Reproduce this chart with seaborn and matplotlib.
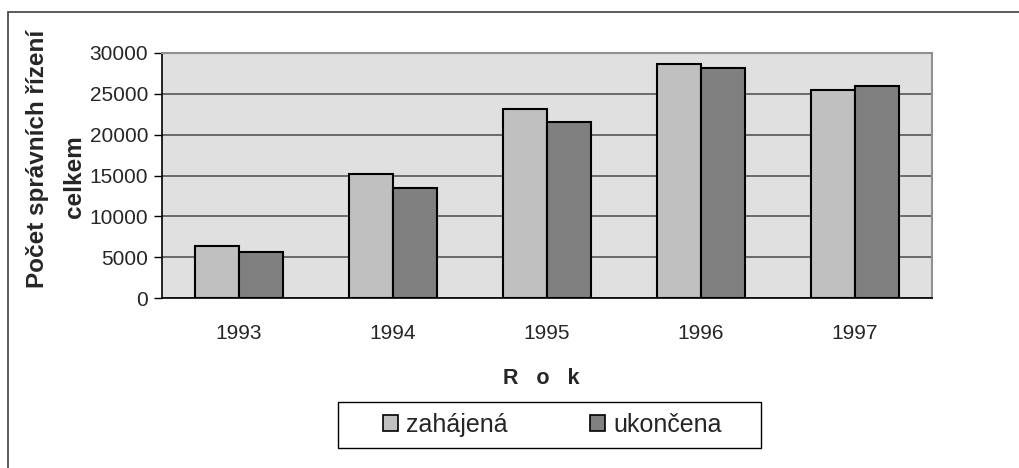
import matplotlib
matplotlib.use("Agg")
import matplotlib.pyplot as plt
from matplotlib.patches import Rectangle, Patch
import seaborn as sns
import pandas as pd

years = ["1993", "1994", "1995", "1996", "1997"]
zahajena = [6400, 15200, 23100, 28700, 25500]
ukoncena = [5600, 13500, 21500, 28200, 26000]
series_names = ["zahájená", "ukončena"]
yticks = [0, 5000, 10000, 15000, 20000, 25000, 30000]

df = pd.DataFrame({
    "Rok": years * 2,
    "value": zahajena + ukoncena,
    "series": [series_names[0]] * len(years) + [series_names[1]] * len(years),
})

sns.set_theme(style="white")
plt.rcParams["font.family"] = ["Liberation Sans", "DejaVu Sans"]

W, H = 1020, 468
fig = plt.figure(figsize=(W / 100, H / 100), dpi=100)
ax = fig.add_axes([162 / W, 1 - 298 / H, (932 - 162) / W, (298 - 53) / H])

palette = {series_names[0]: "#c0c0c0", series_names[1]: "#808080"}
sns.barplot(data=df, x="Rok", y="value", hue="series", palette=palette,
            width=0.57, gap=0, edgecolor="black", linewidth=1.5,
            saturation=1, ax=ax, legend=False, zorder=3)

ax.set_facecolor("#e0e0e0")
ax.set_ylim(0, 30000)
ax.set_xlim(-0.5, len(years) - 0.5)
ax.set_yticks(yticks)
ax.set_yticklabels([str(v) for v in yticks], fontsize=15)
ax.set_xticks(range(len(years)))
ax.set_xticklabels(years, fontsize=15)
ax.set_xticks([i - 0.5 for i in range(len(years) + 1)], minor=True)
ax.tick_params(axis="x", which="major", length=0, pad=19)
ax.tick_params(axis="x", which="minor", length=12, direction="inout", width=1, color="black")
ax.tick_params(axis="y", which="major", length=6, direction="out", width=1, color="black", left=True, pad=4)
ax.yaxis.grid(True, color="#555555", linewidth=1.2, zorder=1)
ax.set_axisbelow(True)
ax.set_xlabel("")
ax.set_ylabel("")
for s in ["top", "right"]:
    ax.spines[s].set_color("#909090")
    ax.spines[s].set_linewidth(1.5)
for s in ["left", "bottom"]:
    ax.spines[s].set_color("black")
    ax.spines[s].set_linewidth(1.2)

# axis titles
fig.text(37.5 / W, 1 - 159 / H, "Počet správních řízení", rotation=90,
         ha="center", va="center", fontsize=17.5, fontweight="bold")
fig.text(75 / W, 1 - 177 / H, "celkem", rotation=90,
         ha="center", va="center", fontsize=17.5, fontweight="bold")
fig.text(541 / W, 1 - 378 / H, "R   o   k", ha="center", va="center",
         fontsize=15.5, fontweight="bold")

# legend box (drawn as a figure patch) and legend contents
fig.patches.append(Rectangle((338 / W, 1 - 448 / H), (761 - 338) / W, (448 - 402) / H,
                             transform=fig.transFigure, facecolor="white",
                             edgecolor="black", linewidth=1.0, zorder=1))
handles = [Patch(facecolor=palette[n], edgecolor="black", linewidth=1.2) for n in series_names]
leg = fig.legend(handles, series_names, loc="center", bbox_to_anchor=(552.5 / W, 1 - 425 / H),
                 ncol=2, fontsize=18, frameon=False, handlelength=0.6,
                 handleheight=0.6, handletextpad=0.32, columnspacing=3.3,
                 borderpad=0, borderaxespad=0)
leg.set_zorder(5)

# outer chart border
fig.patches.append(Rectangle((8 / W, -0.1), 1.2, 1.1 - 12 / H, transform=fig.transFigure,
                             fill=False, edgecolor="#404040", linewidth=1.2))

fig.savefig("out.png", dpi=100)
